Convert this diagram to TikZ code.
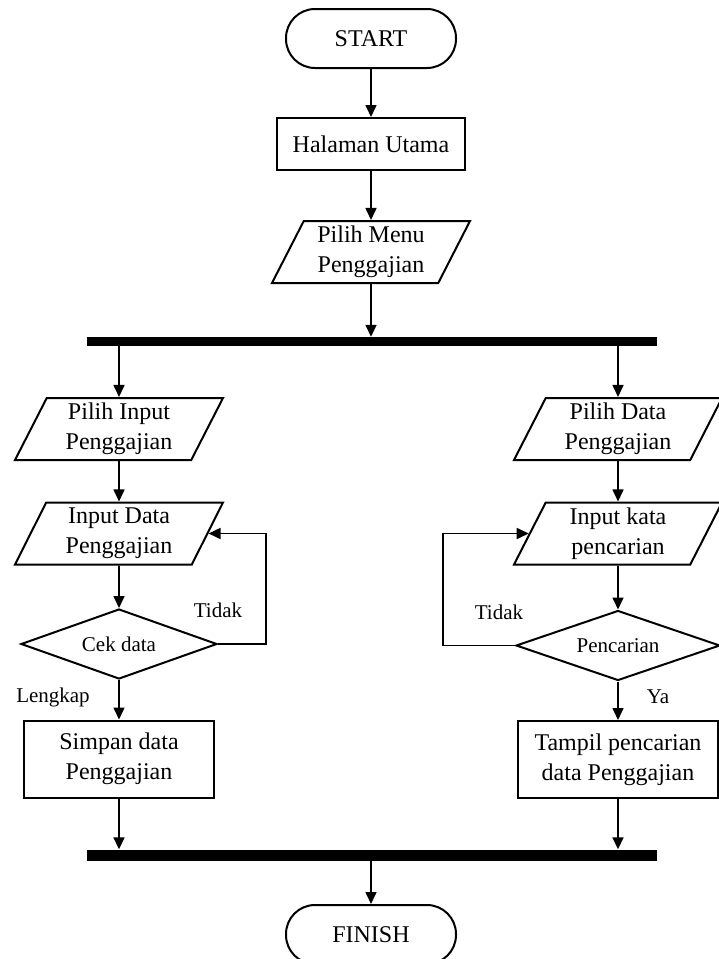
\documentclass[tikz,border=0pt]{standalone}
\usepackage{fontspec}
\setmainfont{Liberation Serif}
\usetikzlibrary{shapes.geometric,arrows.meta,calc}

\tikzset{
  x=1pt, y=-1pt,
  base/.style={draw=black, line width=2pt, align=center, inner sep=0pt,
    font=\fontsize{24}{30}\selectfont},
  terminal/.style={base, rectangle, rounded corners=29pt,
    minimum width=170pt, minimum height=59pt},
  process/.style={base, rectangle, minimum height=77pt},
  io/.style={base, trapezium, trapezium left angle=58.5, trapezium right angle=121.5,
    trapezium stretches body, minimum height=62pt, minimum width=208pt},
  decision/.style={base, diamond, aspect=3, font=\fontsize{21}{26}\selectfont,
    minimum width=200pt, minimum height=70pt},
  syncbar/.style={rectangle, fill=black, draw=none, inner sep=0pt,
    minimum width=570pt},
  arr/.style={line width=1.6pt, -{Triangle[length=12pt,width=11pt]}},
  lbl/.style={font=\fontsize{21}{26}\selectfont, inner sep=0pt}
}

\begin{document}
\begin{tikzpicture}
\useasboundingbox (0,0) rectangle (718,959);

% top part
\node[terminal] (start) at (371,38.5) {START};
\node[process, minimum width=188pt, minimum height=52pt] (main) at (371,144) {Halaman Utama};
\node[io, minimum width=198pt] (menu) at (371,252) {Pilih Menu\\Penggajian};
\node[syncbar, minimum height=9pt] (fork) at (372,341.5) {};

% left branch: input of payroll data
\node[io] (pinput) at (119,429) {Pilih Input\\Penggajian};
\node[io] (indata) at (119,533.5) {Input Data\\Penggajian};
\node[decision, minimum width=196pt] (cek) at (119,644) {Cek data};
\node[process, minimum width=190pt] (simpan) at (119,759) {Simpan data\\Penggajian};

% right branch: search of payroll data
\node[io] (pdata) at (618,429) {Pilih Data\\Penggajian};
\node[io] (inkata) at (618,533.5) {Input kata\\pencarian};
\node[decision, minimum width=204pt] (cari) at (618,645.5) {Pencarian};
\node[process, minimum width=200pt] (tampil) at (618,759.5) {Tampil pencarian\\data Penggajian};

% bottom part
\node[syncbar, minimum height=11pt] (join) at (372,855) {};
\node[terminal] (finish) at (371,934.5) {FINISH};

% loop corners
\coordinate (lx) at (266,0);
\coordinate (rx) at (443,0);

% main flow
\draw[arr] (start) -- (main);
\draw[arr] (main) -- (menu);
\draw[arr] (menu.south) -- (menu.south |- fork.north);
\draw[arr] (pinput.north |- fork.south) -- (pinput.north);
\draw[arr] (pdata.north |- fork.south) -- (pdata.north);
\draw[arr] (pinput) -- (indata);
\draw[arr] (indata) -- (cek);
\draw[arr] (cek) -- (simpan);
\draw[arr] (pdata) -- (inkata);
\draw[arr] (inkata) -- (cari);
\draw[arr] (cari) -- (tampil);
\draw[arr] (simpan.south) -- (simpan.south |- join.north);
\draw[arr] (tampil.south) -- (tampil.south |- join.north);
\draw[arr] (join.south -| finish.north) -- (finish.north);

% loops back on failure
\draw[arr] (cek.east) -- (cek.east -| lx) |- (indata.east);
\draw[arr] (cari.west) -- (cari.west -| rx) |- (inkata.west);

% labels
\node[lbl] (t1) at (218,610) {Tidak};
\node[lbl] (l1) at (53,697) {Lengkap};
\node[lbl] (t2) at (499,612) {Tidak};
\node[lbl] (y1) at (658,697) {Ya};
\end{tikzpicture}
\end{document}
